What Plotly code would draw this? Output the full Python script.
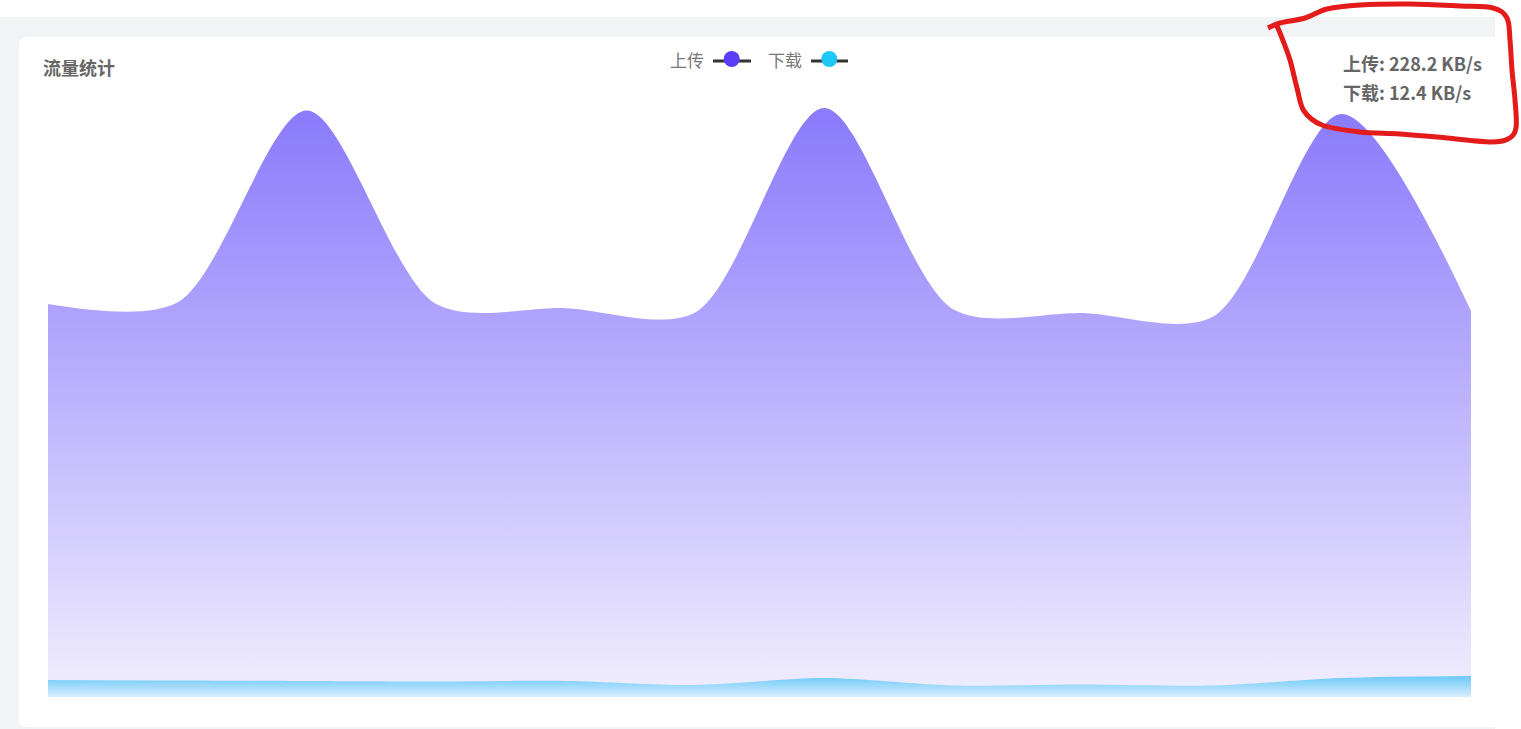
import plotly.graph_objects as go

# ---------------- data ----------------
samples = list(range(1, 13))
upload_kbs = [232.3, 233.2, 346.7, 232.3, 229.9, 227.2, 348.2, 229.1, 227.0, 224.6, 344.7, 228.2]
download_kbs = [10.1, 9.8, 9.5, 9.2, 9.5, 7.1, 11.2, 6.8, 7.4, 6.8, 11.2, 12.4]
series_names = ["上传", "下载"]
title_text = "流量统计"
current_upload = "228.2 KB/s"
current_download = "12.4 KB/s"

# ---------------- geometry helpers ----------------
W, H = 1521, 729
L, R, T, B = 48, 1471, 105, 697
Y_MAX = 350


def px(x):
    return (x - L) / (R - L)


def py(y):
    return (B - y) / (B - T)


def rounded_rect(x0, y0, x1, y1, r):
    pts = [
        ("M", [(x0 + r, y0)]),
        ("L", [(x1, y0)]),
        ("L", [(x1, y1)]),
        ("L", [(x0 + r, y1)]),
        ("Q", [(x0, y1), (x0, y1 - r)]),
        ("L", [(x0, y0 + r)]),
        ("Q", [(x0, y0), (x0 + r, y0)]),
    ]
    s = ""
    for cmd, ps in pts:
        s += cmd + " " + " ".join(f"{px(a):.6f},{py(b):.6f}" for a, b in ps) + " "
    return s + "Z"


def smooth_path(points):
    # Catmull-Rom -> cubic bezier, in paper coords
    p = points
    s = f"M {px(p[0][0]):.6f},{py(p[0][1]):.6f} "
    for i in range(len(p) - 1):
        p0 = p[i - 1] if i > 0 else p[i]
        p1 = p[i]
        p2 = p[i + 1]
        p3 = p[i + 2] if i + 2 < len(p) else p[i + 1]
        c1 = (p1[0] + (p2[0] - p0[0]) / 6, p1[1] + (p2[1] - p0[1]) / 6)
        c2 = (p2[0] - (p3[0] - p1[0]) / 6, p2[1] - (p3[1] - p1[1]) / 6)
        s += "C " + " ".join(f"{px(a):.6f},{py(b):.6f}" for a, b in (c1, c2, p2)) + " "
    return s


UP_TOP, UP_BOTTOM = "#8a7afc", "#f1eefe"
DN_TOP, DN_BOTTOM = "#6ccaf8", "#d9edfd"
UP_DOT, DN_DOT = "#5a3cfa", "#1ec8f8"
TEXT = "#666666"
FONT = "Noto Sans CJK SC"
SMOOTH = 0.85

fig = go.Figure()

fig.add_trace(go.Scatter(
    x=samples, y=upload_kbs, name=series_names[0], mode="lines",
    line=dict(shape="spline", smoothing=SMOOTH, width=0, color=UP_DOT),
    fill="tozeroy",
    fillgradient=dict(type="vertical", colorscale=[[0, UP_BOTTOM], [1, UP_TOP]],
                      start=0, stop=max(upload_kbs)),
    hoverinfo="skip", showlegend=False,
))
fig.add_trace(go.Scatter(
    x=samples, y=download_kbs, name=series_names[1], mode="lines",
    line=dict(shape="spline", smoothing=SMOOTH, width=0, color=DN_DOT),
    fill="tozeroy",
    fillgradient=dict(type="vertical", colorscale=[[0, DN_BOTTOM], [1, DN_TOP]],
                      start=0, stop=max(download_kbs)),
    hoverinfo="skip", showlegend=False,
))

shapes = []
# page background + card
shapes.append(dict(type="rect", xref="paper", yref="paper", layer="below",
                   x0=px(0), x1=px(1495), y0=py(729), y1=py(17),
                   fillcolor="#f2f3f5", line=dict(width=0)))
shapes.append(dict(type="path", xref="paper", yref="paper", layer="below",
                   path=rounded_rect(19, 37, 1495, 727, 8),
                   fillcolor="#ffffff", line=dict(width=0)))

# custom legend (text before icon)
legend_items = [
    (series_names[0], UP_DOT, 706, 713, 751, 731.7),
    (series_names[1], DN_DOT, 804, 811, 848, 829.3),
]
annotations = []
for name, col, tx, lx0, lx1, cx in legend_items:
    annotations.append(dict(text=name, xref="paper", yref="paper", x=px(tx), y=py(60),
                            xanchor="right", yanchor="middle", showarrow=False,
                            font=dict(family=FONT, size=17, color="#777777")))
    shapes.append(dict(type="line", xref="paper", yref="paper",
                       x0=px(lx0), x1=px(lx1), y0=py(61), y1=py(61),
                       line=dict(color="#333333", width=3)))
    shapes.append(dict(type="circle", xref="paper", yref="paper",
                       x0=px(cx - 8), x1=px(cx + 8), y0=py(59 + 8), y1=py(59 - 8),
                       fillcolor=col, line=dict(width=0)))

annotations.append(dict(text=f"<b>{title_text}</b>", xref="paper", yref="paper",
                        x=px(41), y=py(67), xanchor="left", yanchor="middle", showarrow=False,
                        font=dict(family=FONT, size=18, color=TEXT)))
annotations.append(dict(text=f"<b>{series_names[0]}: {current_upload}</b>", xref="paper", yref="paper",
                        x=px(1341), y=py(63), xanchor="left", yanchor="middle", showarrow=False,
                        font=dict(family=FONT, size=18, color=TEXT)))
annotations.append(dict(text=f"<b>{series_names[1]}: {current_download}</b>", xref="paper", yref="paper",
                        x=px(1341), y=py(92), xanchor="left", yanchor="middle", showarrow=False,
                        font=dict(family=FONT, size=18, color=TEXT)))

# red hand-drawn highlight loop
scribble = [(1268, 28), (1280, 23), (1305, 18), (1327, 9), (1360, 5), (1410, 4), (1460, 6),
            (1493, 8), (1507, 18), (1510, 40), (1512, 70), (1515, 100), (1516, 128), (1508, 139),
            (1490, 142), (1447, 138), (1400, 134), (1360, 132), (1322, 125), (1304, 111),
            (1297, 88), (1290, 60), (1282, 38), (1277, 26)]
shapes.append(dict(type="path", xref="paper", yref="paper", layer="above",
                   path=smooth_path(scribble), line=dict(color="#e41b1b", width=5)))

fig.update_layout(
    width=W, height=H,
    margin=dict(l=L, r=W - R, t=T, b=H - B, pad=0),
    paper_bgcolor="#ffffff", plot_bgcolor="rgba(0,0,0,0)",
    xaxis=dict(visible=False, range=[samples[0], samples[-1]], fixedrange=True),
    yaxis=dict(visible=False, range=[0, Y_MAX], fixedrange=True),
    shapes=shapes, annotations=annotations, showlegend=False,
    hovermode=False,
)

fig.write_html("out.html", config=dict(displayModeBar=False),
               post_script="document.body.style.margin='0px';document.body.style.overflow='hidden';")
